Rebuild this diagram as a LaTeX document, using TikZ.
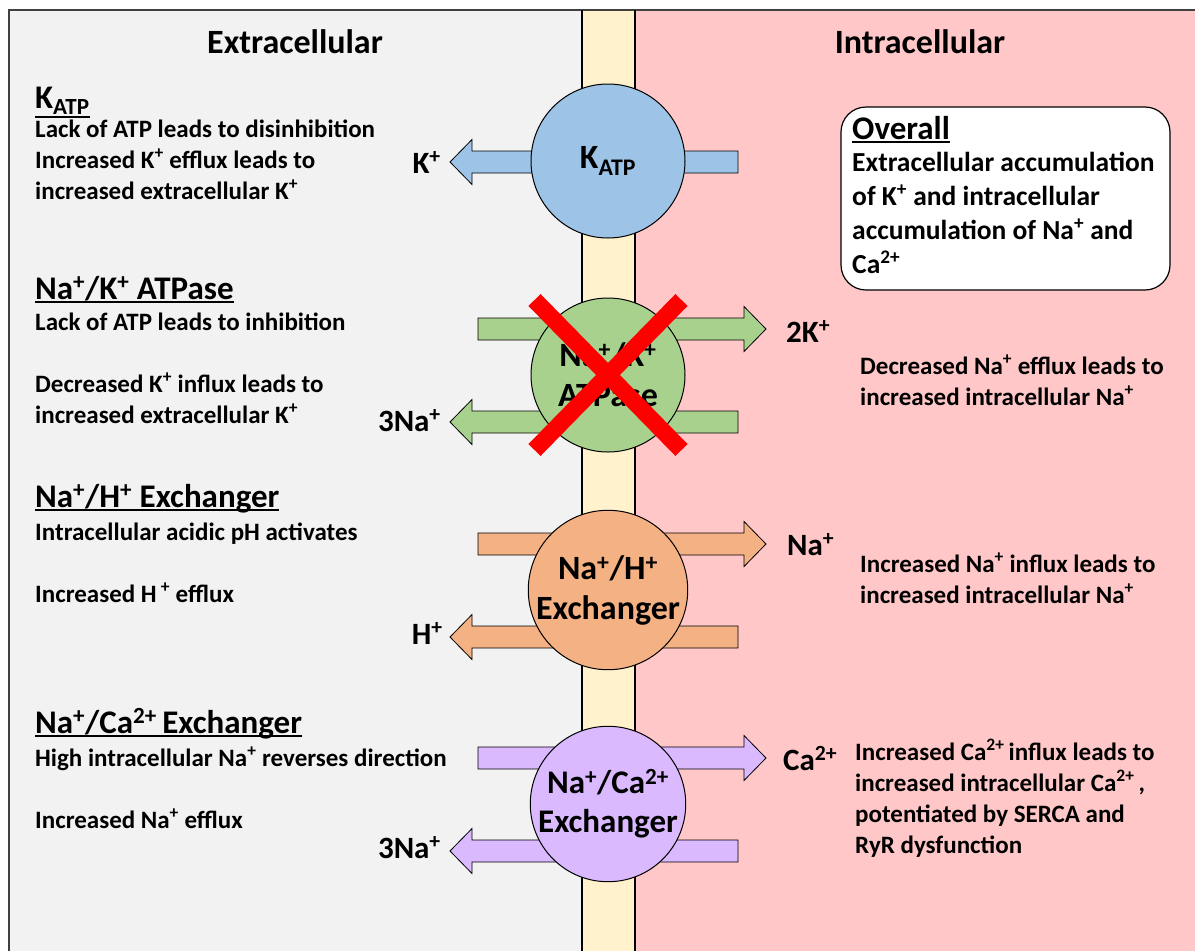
\documentclass[tikz,border=0pt]{standalone}
\usepackage{fontspec}
\setmainfont{Carlito}
\usepackage{tikz}

\definecolor{extgray}{HTML}{F2F2F2}
\definecolor{membrane}{HTML}{FFF2CC}
\definecolor{intpink}{HTML}{FFC7C7}
\definecolor{bordergray}{HTML}{404040}
\definecolor{katpblue}{HTML}{9DC3E6}
\definecolor{nakgreen}{HTML}{A9D18E}
\definecolor{nheorange}{HTML}{F4B183}
\definecolor{ncxpurple}{HTML}{DAB9FF}

\newcommand{\chg}[1]{\textsuperscript{#1}}
\newcommand{\headline}[2][4pt]{\setbox0=\hbox{#2}\rlap{\rule[-#1]{\wd0}{1.8pt}}\box0}

\begin{document}
\begin{tikzpicture}[x=1pt, y=-1pt,
    side/.style={anchor=base, inner sep=0pt, font=\fontsize{34}{40}\selectfont\bfseries},
    heading/.style={anchor=base west, inner sep=0pt, font=\fontsize{33}{40}\selectfont\bfseries},
    body/.style={anchor=base west, align=left, inner sep=0pt, font=\fontsize{25}{31}\selectfont\bfseries},
    summary/.style={anchor=base west, align=left, inner sep=0pt, font=\fontsize{27.5}{34}\selectfont\bfseries},
    ion/.style={inner sep=0pt, font=\fontsize{31}{36}\selectfont\bfseries},
    pump/.style={circle, draw, line width=1pt, minimum size=154pt, inner sep=0pt, align=center,
      font=\fontsize{34}{40}\selectfont\bfseries},
    flow/.style={draw, line width=0.8pt}]
  \useasboundingbox (0,0) rectangle (1195,951);

  % compartments
  \fill[extgray] (9,10) rectangle (582,951);
  \fill[membrane] (582,10) rectangle (635,951);
  \fill[intpink] (635,10) rectangle (1195,951);
  \draw[line width=2pt, bordergray] (9,951) -- (9,10) -- (1195,10);
  \draw[line width=1.5pt] (582,10) -- (582,951) (635,10) -- (635,951);

  \node[side] (ext) at (295,53) {Extracellular};
  \node[side] (int) at (920,53) {Intracellular};

  % ion flows
  \draw[flow, fill=katpblue] (738,151) -- (472,151) -- (472,139.5) -- (450,162) -- (472,184.5) -- (472,173) -- (738,173) -- cycle;
  \foreach \yc/\col in {375/nakgreen, 590/nheorange, 804/ncxpurple} {
    \begin{scope}[shift={(0,\yc)}]
      \draw[flow, fill=\col] (478,-57) -- (744,-57) -- (744,-68.5) -- (766,-46) -- (744,-23.5) -- (744,-35) -- (478,-35) -- cycle;
      \draw[flow, fill=\col] (738,36) -- (472,36) -- (472,24.5) -- (450,47) -- (472,69.5) -- (472,58) -- (738,58) -- cycle;
    \end{scope}
  }

  % transporters
  \node[pump, fill=katpblue] (katp) at (608,161) {K\textsubscript{ATP}};
  \node[pump, fill=nakgreen] (nak) at (608,375) {Na\chg{+}/K\chg{+}\\ATPase};
  \node[pump, fill=nheorange] (nhe) at (608,590) {Na\chg{+}/H\chg{+}\\Exchanger};
  \node[pump, fill=ncxpurple, font=\fontsize{33}{39}\selectfont\bfseries] (ncx) at (608,804) {Na\chg{+}/Ca\chg{2+}\\Exchanger};
  \draw[red, line width=17pt] (nak.center) ++(-73.5,-75) -- ++(147,150);
  \draw[red, line width=17pt] (nak.center) ++(73.5,-75) -- ++(-147,150);

  % ion labels
  \node[ion, anchor=base east] (kion) at (441,173) {K\chg{+}};
  \node[ion, anchor=base west] (k2ion) at (786,342) {2K\chg{+}};
  \node[ion, anchor=base east] (naout) at (441,431) {3Na\chg{+}};
  \node[ion, anchor=base west] (naion) at (787,555) {Na\chg{+}};
  \node[ion, anchor=base east] (hion) at (443,644) {H\chg{+}};
  \node[ion, anchor=base west] (caion) at (783,770) {Ca\chg{2+}};
  \node[ion, anchor=base east] (naoutb) at (441,858) {3Na\chg{+}};

  % extracellular notes (anchored at the last line)
  \node[heading] (katphead) at (35,108) {\headline[10pt]{K\textsubscript{ATP}}};
  \node[body] (katptext) at (35,199) {Lack of ATP leads to disinhibition\\
    Increased K\chg{+} efflux leads to\\increased extracellular K\chg{+}};
  \node[heading] (nakhead) at (35,299) {\headline{Na\chg{+}/K\chg{+} ATPase}};
  \node[body] (naktext) at (35,423) {Lack of ATP leads to inhibition\\[31pt]
    Decreased K\chg{+} influx leads to\\increased extracellular K\chg{+}};
  \node[heading] (nhehead) at (35,507) {\headline{Na\chg{+}/H\chg{+} Exchanger}};
  \node[body] (nhetext) at (35,602) {Intracellular acidic pH activates\\[31pt]
    Increased H\,\chg{+} efflux};
  \node[heading] (ncxhead) at (35,733) {\headline{Na\chg{+}/Ca\chg{2+}\,Exchanger}};
  \node[body] (ncxtext) at (35,828) {High intracellular Na\chg{+} reverses direction\\[31pt]
    Increased Na\chg{+} efflux};

  % intracellular notes
  \node[draw, fill=white, line width=1.2pt, rounded corners=25pt, minimum width=329pt,
    minimum height=183pt] (overall) at (1005.5,198.5) {};
  \node[heading] (overallhead) at (852,139) {\headline{Overall}};
  \node[summary] (overalltext) at (852,273) {Extracellular accumulation\\
    of K\chg{+} and intracellular\\accumulation of Na\chg{+} and\\Ca\chg{2+}};
  \node[body] (naktextin) at (860,405) {Decreased Na\chg{+} efflux leads to\\
    increased intracellular Na\chg{+}};
  \node[body] (nhetextin) at (860,603) {Increased Na\chg{+} influx leads to\\
    increased intracellular Na\chg{+}};
  \node[body] (ncxtextin) at (855,853) {Increased Ca\chg{2+}\,influx leads to\\
    increased intracellular Ca\chg{2+}\,,\\potentiated by SERCA and\\RyR dysfunction};
\end{tikzpicture}
\end{document}
